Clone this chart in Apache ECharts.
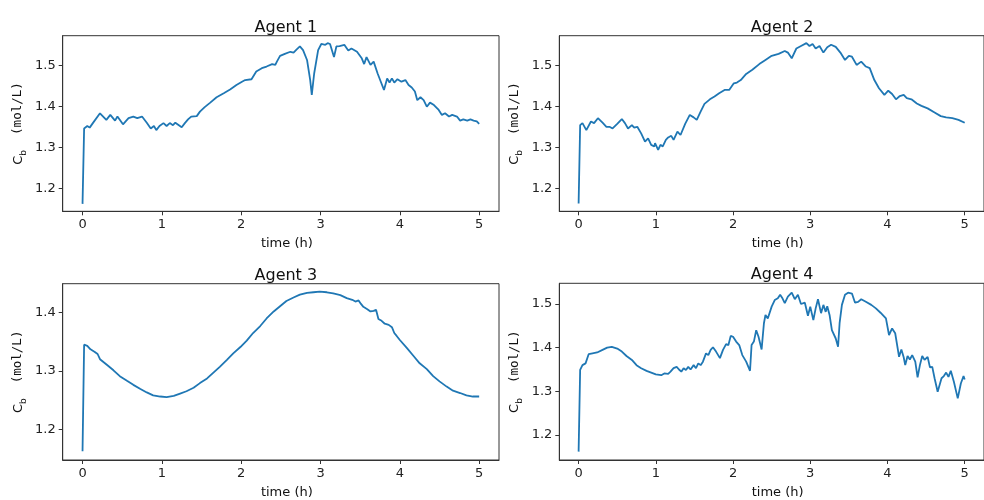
<!DOCTYPE html>
<html>
<head>
<meta charset="utf-8">
<script src="https://cdn.jsdelivr.net/npm/echarts@6/dist/echarts.min.js"></script>
<style>
  html, body { margin: 0; padding: 0; background: #fff; }
  #main { width: 984px; height: 500px; }
</style>
</head>
<body>
<div id="main"></div>
<script>
// values (time in h, Cb in mol/L)
var titles = ["Agent 1", "Agent 2", "Agent 3", "Agent 4"];
var xTicks = [0, 1, 2, 3, 4, 5];
var yTicks = [
  [1.2, 1.3, 1.4, 1.5],
  [1.2, 1.3, 1.4, 1.5],
  [1.2, 1.3, 1.4],
  [1.2, 1.3, 1.4, 1.5]
];

var t1 = [0, 0.02, 0.06, 0.09, 0.13, 0.22, 0.30, 0.35, 0.41, 0.44, 0.51, 0.58, 0.64, 0.69, 0.75, 0.81, 0.86, 0.90, 0.93, 0.97,
  1.02, 1.06, 1.10, 1.14, 1.17, 1.25, 1.29, 1.33, 1.37, 1.44, 1.48, 1.54, 1.61, 1.69, 1.78, 1.86, 1.94, 2.01, 2.05, 2.13,
  2.19, 2.26, 2.32, 2.39, 2.43, 2.45, 2.49, 2.55, 2.62, 2.66, 2.70, 2.74, 2.78, 2.83, 2.87, 2.89, 2.92, 2.97, 3.01, 3.06,
  3.09, 3.12, 3.17, 3.20, 3.24, 3.30, 3.35, 3.39, 3.46, 3.52, 3.55, 3.58, 3.63, 3.67, 3.72, 3.76, 3.80, 3.84, 3.87, 3.90,
  3.93, 3.97, 4.02, 4.07, 4.11, 4.15, 4.19, 4.22, 4.26, 4.30, 4.34, 4.38, 4.43, 4.49, 4.53, 4.57, 4.62, 4.66, 4.72, 4.76,
  4.80, 4.85, 4.89, 4.93, 4.97, 5.0];
var cb1 = [1.162, 1.346, 1.352, 1.348, 1.359, 1.383, 1.367, 1.379, 1.365, 1.375, 1.356, 1.371, 1.375, 1.371, 1.375, 1.360, 1.346, 1.352, 1.342, 1.352,
  1.359, 1.352, 1.359, 1.354, 1.360, 1.349, 1.359, 1.368, 1.375, 1.376, 1.387, 1.398, 1.409, 1.422, 1.432, 1.441, 1.452, 1.460, 1.464, 1.466,
  1.485, 1.493, 1.497, 1.503, 1.501, 1.509, 1.523, 1.528, 1.533, 1.531, 1.539, 1.546, 1.537, 1.513, 1.464, 1.428, 1.480, 1.537, 1.552, 1.550,
  1.554, 1.552, 1.520, 1.546, 1.547, 1.550, 1.536, 1.541, 1.533, 1.517, 1.503, 1.520, 1.501, 1.509, 1.480, 1.460, 1.440, 1.468, 1.458, 1.468,
  1.458, 1.466, 1.460, 1.464, 1.452, 1.446, 1.436, 1.415, 1.422, 1.415, 1.399, 1.409, 1.403, 1.391, 1.379, 1.383, 1.375, 1.379, 1.375, 1.365,
  1.368, 1.365, 1.368, 1.365, 1.363, 1.357];

var t2 = [0, 0.02, 0.05, 0.10, 0.16, 0.20, 0.25, 0.31, 0.36, 0.40, 0.44, 0.50, 0.56, 0.60, 0.64, 0.69, 0.72, 0.76, 0.81, 0.86,
  0.90, 0.94, 0.98, 0.99, 1.03, 1.06, 1.09, 1.13, 1.16, 1.18, 1.20, 1.23, 1.28, 1.32, 1.38, 1.44, 1.49, 1.53, 1.58, 1.63,
  1.70, 1.76, 1.82, 1.89, 1.95, 2.01, 2.05, 2.10, 2.17, 2.25, 2.34, 2.42, 2.50, 2.59, 2.67, 2.71, 2.76, 2.82, 2.88, 2.95,
  2.99, 3.03, 3.07, 3.12, 3.17, 3.22, 3.27, 3.33, 3.39, 3.45, 3.50, 3.54, 3.60, 3.66, 3.72, 3.77, 3.83, 3.89, 3.96, 4.01,
  4.06, 4.11, 4.16, 4.21, 4.25, 4.31, 4.38, 4.44, 4.52, 4.61, 4.69, 4.76, 4.84, 4.92, 5.0];
var cb2 = [1.163, 1.354, 1.359, 1.342, 1.363, 1.359, 1.371, 1.360, 1.350, 1.350, 1.346, 1.357, 1.369, 1.359, 1.346, 1.354, 1.348, 1.350, 1.334, 1.314,
  1.322, 1.306, 1.302, 1.310, 1.294, 1.306, 1.302, 1.318, 1.324, 1.320, 1.328, 1.318, 1.338, 1.330, 1.357, 1.379, 1.373, 1.367, 1.387, 1.406,
  1.417, 1.424, 1.432, 1.440, 1.440, 1.456, 1.458, 1.464, 1.479, 1.489, 1.503, 1.513, 1.523, 1.528, 1.535, 1.531, 1.517, 1.541, 1.547, 1.554,
  1.547, 1.552, 1.541, 1.547, 1.531, 1.544, 1.550, 1.545, 1.531, 1.513, 1.523, 1.521, 1.501, 1.509, 1.497, 1.493, 1.464, 1.444, 1.428, 1.438,
  1.430, 1.417, 1.425, 1.428, 1.420, 1.417, 1.407, 1.401, 1.395, 1.385, 1.376, 1.373, 1.371, 1.367, 1.360];

var t3 = [0, 0.02, 0.06, 0.10, 0.15, 0.19, 0.22, 0.31, 0.39, 0.47, 0.56, 0.64, 0.73, 0.81, 0.89, 0.98, 1.06, 1.15, 1.23, 1.31,
  1.40, 1.48, 1.57, 1.65, 1.73, 1.82, 1.90, 1.99, 2.07, 2.15, 2.24, 2.32, 2.41, 2.49, 2.57, 2.66, 2.74, 2.83, 2.91, 2.99,
  3.08, 3.16, 3.25, 3.33, 3.40, 3.44, 3.48, 3.51, 3.54, 3.59, 3.63, 3.67, 3.70, 3.73, 3.77, 3.81, 3.86, 3.90, 3.93, 3.96,
  4.00, 4.09, 4.17, 4.25, 4.34, 4.42, 4.50, 4.59, 4.67, 4.76, 4.84, 4.92, 5.0];
var cb3 = [1.162, 1.345, 1.343, 1.337, 1.333, 1.329, 1.320, 1.310, 1.301, 1.291, 1.283, 1.276, 1.269, 1.263, 1.258, 1.256, 1.255, 1.257, 1.261, 1.265,
  1.271, 1.279, 1.287, 1.297, 1.307, 1.319, 1.330, 1.341, 1.352, 1.365, 1.377, 1.390, 1.402, 1.411, 1.420, 1.426, 1.431, 1.434, 1.435, 1.436,
  1.435, 1.433, 1.430, 1.425, 1.422, 1.419, 1.421, 1.415, 1.410, 1.406, 1.402, 1.403, 1.405, 1.389, 1.386, 1.381, 1.379, 1.375, 1.365, 1.360,
  1.353, 1.339, 1.326, 1.313, 1.303, 1.291, 1.282, 1.273, 1.266, 1.262, 1.258, 1.256, 1.256];

var t4 = [0, 0.02, 0.05, 0.09, 0.13, 0.18, 0.24, 0.31, 0.37, 0.43, 0.50, 0.56, 0.62, 0.69, 0.75, 0.81, 0.88, 0.94, 1.00, 1.07,
  1.11, 1.16, 1.19, 1.23, 1.27, 1.30, 1.33, 1.36, 1.39, 1.42, 1.45, 1.49, 1.52, 1.55, 1.58, 1.61, 1.65, 1.68, 1.71, 1.74,
  1.78, 1.83, 1.87, 1.91, 1.94, 1.97, 2.00, 2.04, 2.08, 2.12, 2.17, 2.22, 2.24, 2.27, 2.30, 2.33, 2.37, 2.40, 2.42, 2.45,
  2.50, 2.54, 2.58, 2.61, 2.64, 2.67, 2.71, 2.76, 2.80, 2.84, 2.88, 2.93, 2.97, 3.00, 3.04, 3.07, 3.10, 3.14, 3.17, 3.20,
  3.22, 3.25, 3.28, 3.33, 3.36, 3.38, 3.41, 3.45, 3.49, 3.54, 3.58, 3.62, 3.66, 3.72, 3.79, 3.85, 3.91, 3.98, 4.02, 4.06,
  4.10, 4.15, 4.18, 4.21, 4.23, 4.26, 4.29, 4.32, 4.36, 4.39, 4.42, 4.45, 4.48, 4.52, 4.55, 4.58, 4.61, 4.65, 4.70, 4.73,
  4.76, 4.79, 4.82, 4.86, 4.91, 4.95, 4.97, 4.985, 5.0];
var cb4 = [1.162, 1.349, 1.360, 1.364, 1.385, 1.387, 1.389, 1.395, 1.400, 1.402, 1.398, 1.391, 1.381, 1.372, 1.360, 1.353, 1.347, 1.343, 1.339, 1.337,
  1.341, 1.340, 1.345, 1.353, 1.356, 1.350, 1.345, 1.353, 1.349, 1.356, 1.350, 1.360, 1.353, 1.364, 1.360, 1.368, 1.387, 1.383, 1.395, 1.401,
  1.391, 1.376, 1.395, 1.408, 1.406, 1.427, 1.425, 1.414, 1.406, 1.383, 1.368, 1.347, 1.406, 1.414, 1.440, 1.425, 1.396, 1.456, 1.475, 1.467,
  1.494, 1.509, 1.513, 1.521, 1.513, 1.502, 1.517, 1.526, 1.511, 1.521, 1.500, 1.503, 1.473, 1.494, 1.463, 1.490, 1.511, 1.479, 1.498, 1.482,
  1.495, 1.475, 1.440, 1.421, 1.402, 1.456, 1.498, 1.521, 1.526, 1.524, 1.503, 1.505, 1.511, 1.505, 1.498, 1.490, 1.480, 1.467, 1.429, 1.444,
  1.433, 1.379, 1.396, 1.378, 1.360, 1.381, 1.373, 1.383, 1.368, 1.332, 1.360, 1.381, 1.372, 1.379, 1.355, 1.356, 1.330, 1.299, 1.330, 1.335,
  1.343, 1.333, 1.347, 1.322, 1.284, 1.318, 1.322, 1.335, 1.327];

var times = [t1, t2, t3, t4];
var values = [cb1, cb2, cb3, cb4];

var myChart = echarts.init(document.getElementById("main"));

// grid boxes in px (matplotlib 2x2 subplots)
var boxes = [
  { left: 62.7, top: 35.7, width: 436.3, height: 175.6 },
  { left: 559.3, top: 35.7, width: 435.6, height: 175.6 },
  { left: 62.7, top: 283.7, width: 436.3, height: 176.3 },
  { left: 559.3, top: 283.3, width: 435.6, height: 176.7 }
];
var yRanges = [[1.1439, 1.5722], [1.1439, 1.5722], [1.147, 1.4497], [1.1428, 1.5474]];

var axisColor = "#333";
var font = "DejaVu Sans";

var grids = [], xAxes = [], yAxes = [], series = [], title = [];
boxes.forEach(function (b, i) {
  grids.push({
    left: b.left, top: b.top, width: b.width, height: b.height,
    show: true, borderColor: axisColor, borderWidth: 1, backgroundColor: "#fff"
  });
  title.push({
    text: titles[i],
    left: b.left + (2.75 / 5.5) * b.width,
    top: b.top - 21,
    textAlign: "center",
    textStyle: { fontFamily: font, fontSize: 16, fontWeight: "normal", color: "#111" }
  });
  xAxes.push({
    type: "value", gridIndex: i, min: -0.25, max: 5.25,
    name: "time (h)", nameLocation: "middle", nameGap: 26,
    nameTextStyle: { fontFamily: font, fontSize: 13, color: "#111", padding: [0, 0, 0, 12] },
    axisLine: { show: true, onZero: false, lineStyle: { color: axisColor, width: 1 } },
    axisTick: { show: true, length: 4, lineStyle: { color: axisColor }, customValues: xTicks },
    axisLabel: { fontFamily: font, fontSize: 13, color: "#222", margin: 7, customValues: xTicks },
    splitLine: { show: false }
  });
  yAxes.push({
    type: "value", gridIndex: i, min: yRanges[i][0], max: yRanges[i][1],
    name: "{c|C}{s|b}{u|  (mol/L)}", nameLocation: "middle", nameRotate: 90, nameGap: 35,
    nameTextStyle: {
      color: "#111",
      rich: {
        c: { fontFamily: font, fontSize: 13, color: "#111", verticalAlign: "bottom", padding: [0, 0, 3, 0] },
        s: { fontFamily: font, fontSize: 9, color: "#111", verticalAlign: "bottom" },
        u: { fontFamily: "DejaVu Sans Mono", fontSize: 12.5, color: "#111", verticalAlign: "bottom", padding: [0, 0, 3, 0] }
      }
    },
    axisLine: { show: true, onZero: false, lineStyle: { color: axisColor, width: 1 } },
    axisTick: { show: true, length: 4, lineStyle: { color: axisColor }, customValues: yTicks[i] },
    axisLabel: {
      fontFamily: font, fontSize: 13, color: "#222", margin: 7, customValues: yTicks[i],
      formatter: function (v) { return v.toFixed(1); }
    },
    splitLine: { show: false }
  });
  series.push({
    type: "line", xAxisIndex: i, yAxisIndex: i,
    showSymbol: false, symbol: "none",
    lineStyle: { color: "#1f77b4", width: 1.8 },
    data: times[i].map(function (t, k) { return [t, values[i][k]]; })
  });
});

option = {
  backgroundColor: "#fff",
  animation: false,
  title: title,
  grid: grids,
  xAxis: xAxes,
  yAxis: yAxes,
  series: series
};

myChart.setOption(option);
</script>
</body>
</html>
